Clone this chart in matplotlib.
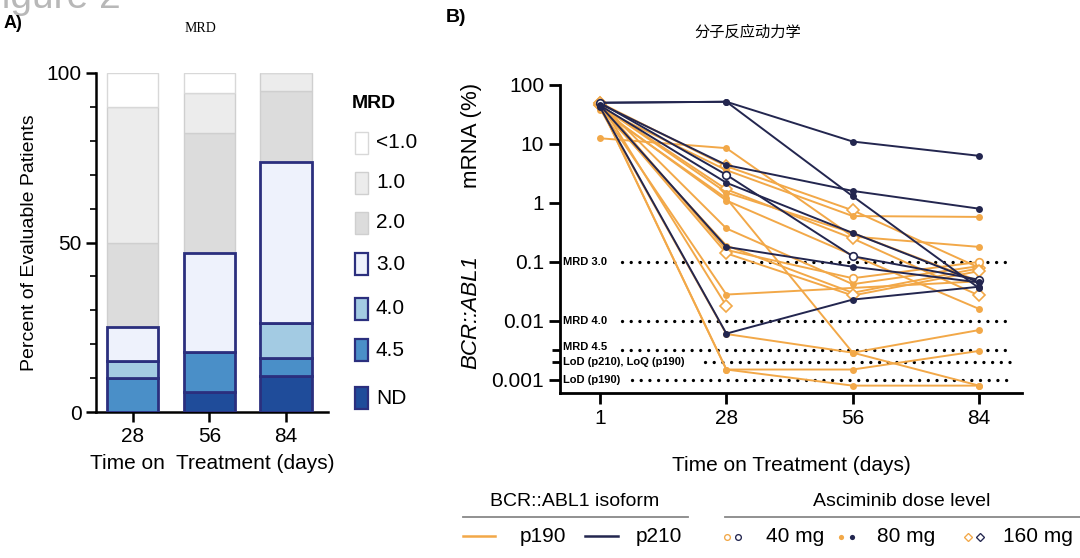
import numpy as np
import matplotlib
matplotlib.use('Agg')
import matplotlib.pyplot as plt
from matplotlib.lines import Line2D
from matplotlib.patches import Rectangle

plt.rcParams['font.family'] = ['Liberation Sans', 'Noto Sans CJK SC', 'DejaVu Sans']

# ---- panel A data (percent of evaluable patients) ----
bar_days = ['28', '56', '84']
mrd_levels = ['ND', '4.5', '4.0', '3.0', '2.0', '1.0', '<1.0']
pct_nd = [0.0, 5.9, 10.5]
pct_45 = [10.0, 11.7, 5.3]
pct_40 = [5.0, 0.0, 10.5]
pct_30 = [10.0, 29.4, 47.4]
pct_20 = [25.0, 35.3, 21.0]
pct_10 = [40.0, 11.8, 5.3]
pct_lt1 = [10.0, 5.9, 0.0]

# ---- panel B data (BCR::ABL1 mRNA %, days 1/28/56/84) ----
time_labels = ['1', '28', '56', '84']
p190_values = [
    [12.5, 8.5, 0.27, 0.18],
    [50, 4.2, 0.75, 0.08],
    [40, 3.6, 0.6, 0.58],
    [45, 1.7, 0.25, 0.027],
    [45, 1.5, 0.31, 0.047],
    [40, 1.1, 0.13, 0.016],
    [50, 0.37, 0.042, 0.085],
    [40, 0.19, 0.03, 0.078],
    [50, 0.16, 0.053, 0.1],
    [45, 0.14, 0.027, 0.07],
    [40, 0.028, np.nan, 0.047],
    [50, 0.018, np.nan, np.nan],
    [40, 0.006, 0.0029, 0.007],
    [45, 0.0015, 0.0015, 0.0031],
    [45, 0.0015, 0.0008, 0.0008],
    [38, 1.2, 0.0029, 0.0008],
]
p190_dose = [80, 160, 80, 160, 80, 80, 80, 80, 40, 160, 80, 160, 80, 80, 80, 80]
p210_values = [
    [50, 52, 11, 6.3],
    [50, 52, 1.3, 0.036],
    [48, 4.4, 1.6, 0.8],
    [45, 2.2, 0.31, 0.045],
    [50, 3.0, 0.125, 0.05],
    [45, 0.18, 0.083, 0.045],
    [42, 0.0061, 0.023, 0.038],
]
p210_dose = [80, 80, 80, 80, 40, 80, 80]

thresholds = [0.1, 0.01, 0.0032, 0.002, 0.001]
threshold_labels = ['MRD 3.0', 'MRD 4.0', 'MRD 4.5', 'LoD (p210), LoQ (p190)', 'LoD (p190)']

ORANGE = '#f2a848'
NAVY = '#23264f'
EDGE_NAVY = '#2b2f7e'

W, H = 1080, 558
fig = plt.figure(figsize=(W / 100, H / 100), dpi=100)


def fx(px):
    return px / W


def fy(py):
    return 1 - py / H


# ================= panel A =================
axA = fig.add_axes([fx(96), fy(412), fx(328) - fx(96), fy(73) - fy(412)])
xb = np.arange(len(bar_days))
stack = [pct_nd, pct_45, pct_40, pct_30, pct_20, pct_10, pct_lt1]
fills = ['#1f4c9a', '#4a8fc8', '#a3cbe3', '#eef2fc', '#dcdcdc', '#ececec', '#ffffff']
edges = [EDGE_NAVY, EDGE_NAVY, EDGE_NAVY, EDGE_NAVY, '#cfcfcf', '#cfcfcf', '#d8d8d8']
lws = [2, 2, 2, 2, 1, 1, 1]
bottom = np.zeros(len(bar_days))
for vals, fc, ec, lw in zip(stack, fills, edges, lws):
    vals = np.array(vals)
    axA.bar(xb, vals, bottom=bottom, width=0.67, color=fc, edgecolor=ec, linewidth=lw,
            zorder=3 if lw == 2 else 2)
    bottom += vals

axA.set_xlim(-0.48, 2.55)
axA.set_ylim(0, 100)
axA.set_yticks([0, 50, 100])
axA.set_yticks(np.arange(0, 101, 10), minor=True)
axA.set_xticks(xb)
axA.set_xticklabels(bar_days)
for s in ['top', 'right']:
    axA.spines[s].set_visible(False)
for s in ['left', 'bottom']:
    axA.spines[s].set_linewidth(1.8)
axA.tick_params(axis='both', which='major', labelsize=15, width=1.8, length=7)
axA.tick_params(axis='y', which='minor', width=1.2, length=4)
axA.set_ylabel('Percent of Evaluable Patients', fontsize=14, labelpad=6)
axA.set_xlabel('Time on  Treatment (days)', fontsize=15, labelpad=6)

fig.text(fx(200), fy(28), 'MRD', fontsize=10, family='Liberation Serif', ha='center', va='center')
fig.text(fx(-22), fy(8), 'Figure 2', fontsize=28, color='#b8b8b8', ha='left', va='baseline')
fig.text(fx(4), fy(23), 'A)', fontsize=13, fontweight='bold', ha='left', va='center')

# panel A legend
fig.text(fx(352), fy(104), 'MRD', fontsize=14, fontweight='bold', ha='left', va='center')
leg_y = [143, 183, 223, 264, 309, 350, 398]
leg_labels = ['<1.0', '1.0', '2.0', '3.0', '4.0', '4.5', 'ND']
for i, lab in enumerate(leg_labels):
    k = len(leg_labels) - 1 - i
    ly = leg_y[i]
    fig.add_artist(Rectangle((fx(355), fy(ly + 11)), fx(13), fy(ly - 11) - fy(ly + 11),
                             facecolor=fills[k], edgecolor=edges[k], linewidth=1.6 if lws[k] == 2 else 1,
                             transform=fig.transFigure))
    fig.text(fx(376), fy(ly), lab, fontsize=15, ha='left', va='center')

# ================= panel B =================
axB = fig.add_axes([fx(560), fy(393), fx(1022) - fx(560), fy(85) - fy(393)])
axB.set_yscale('log')
xt = np.arange(len(time_labels))

marker_style = {
    40: dict(marker='o', ms=5.5, mfc='white', mew=1.2),
    80: dict(marker='o', ms=5, mew=0),
    160: dict(marker='D', ms=6, mfc='white', mew=1.2),
}


def draw_series(values, doses, color):
    for vals, dose in zip(values, doses):
        vals = np.array(vals, dtype=float)
        m = ~np.isnan(vals)
        st = dict(marker_style[dose])
        if 'mfc' not in st:
            st['mfc'] = color
        axB.plot(xt[m], vals[m], color=color, lw=1.4, mec=color, zorder=3, **st)


draw_series(p190_values, p190_dose, ORANGE)
draw_series(p210_values, p210_dose, NAVY)

dot_start = [0.174, 0.174, 0.174, 0.83, 0.25]
for th, lab, x0 in zip(thresholds, threshold_labels, dot_start):
    axB.plot([x0, 3.27], [th, th], color='black', lw=2.4, linestyle=(0, (0.01, 2.6)),
             dash_capstyle='round', zorder=2)
    dy = 1.12 if lab == 'MRD 4.5' else 1.0
    axB.text(-0.293, th * dy, lab, fontsize=8, fontweight='bold', ha='left', va='center', zorder=4)

axB.set_xlim(-0.317, 3.34)
axB.set_ylim(0.0006, 100)
axB.set_xticks(xt)
axB.set_xticklabels(time_labels)
axB.set_yticks([100, 10, 1, 0.1, 0.01, 0.001])
axB.set_yticklabels(['100', '10', '1', '0.1', '0.01', '0.001'])
axB.set_yticks([0.0032, 0.002], minor=True)
axB.yaxis.set_minor_formatter(matplotlib.ticker.NullFormatter())
for s in ['top', 'right']:
    axB.spines[s].set_visible(False)
for s in ['left', 'bottom']:
    axB.spines[s].set_linewidth(2)
axB.tick_params(axis='both', which='major', labelsize=15, width=2, length=8)
axB.tick_params(axis='y', which='minor', width=2, length=6)
axB.set_xlabel('Time on Treatment (days)', fontsize=15, labelpad=20)

fig.text(fx(471), fy(312), 'BCR::ABL1', fontsize=16, style='italic', rotation=90, ha='center', va='center')
fig.text(fx(471), fy(135), 'mRNA (%)', fontsize=16, rotation=90, ha='center', va='center')

fig.text(fx(446), fy(18), 'B)', fontsize=14, fontweight='bold', ha='left', va='center')
fig.text(fx(748), fy(32), '分子反应动力学', fontsize=11, ha='center', va='center')

# panel B legend
fig.text(fx(575), fy(502), 'BCR::ABL1 isoform', fontsize=14, ha='center', va='center')
fig.add_artist(Line2D([fx(463), fx(688)], [fy(517), fy(517)], color='#888888', lw=1.3,
                      transform=fig.transFigure))
fig.add_artist(Line2D([fx(463), fx(495)], [fy(536), fy(536)], color=ORANGE, lw=1.8,
                      transform=fig.transFigure))
fig.text(fx(520), fy(536), 'p190', fontsize=15, ha='left', va='center')
fig.add_artist(Line2D([fx(585), fx(618)], [fy(536), fy(536)], color=NAVY, lw=1.8,
                      transform=fig.transFigure))
fig.text(fx(636), fy(536), 'p210', fontsize=15, ha='left', va='center')

fig.text(fx(902), fy(502), 'Asciminib dose level', fontsize=14, ha='center', va='center')
fig.add_artist(Line2D([fx(725), fx(1080)], [fy(517), fy(517)], color='#888888', lw=1.3,
                      transform=fig.transFigure))
dose_items = [(40, 727, 738, '40 mg', 766), (80, 841, 852, '80 mg', 877), (160, 968, 980, '160 mg', 1003)]
for dose, xo, xn, lab, xtxt in dose_items:
    st = marker_style[dose]
    for xm, col in [(xo, ORANGE), (xn, NAVY)]:
        kw = dict(st)
        kw['ms'] = kw['ms'] * 0.75
        kw['mew'] = kw['mew'] * 0.8
        if 'mfc' not in kw:
            kw['mfc'] = col
        fig.add_artist(Line2D([fx(xm)], [fy(537)], color=col, mec=col, lw=0,
                              transform=fig.transFigure, **kw))
    fig.text(fx(xtxt), fy(536), lab, fontsize=15, ha='left', va='center')

fig.savefig('out.png', dpi=100)
